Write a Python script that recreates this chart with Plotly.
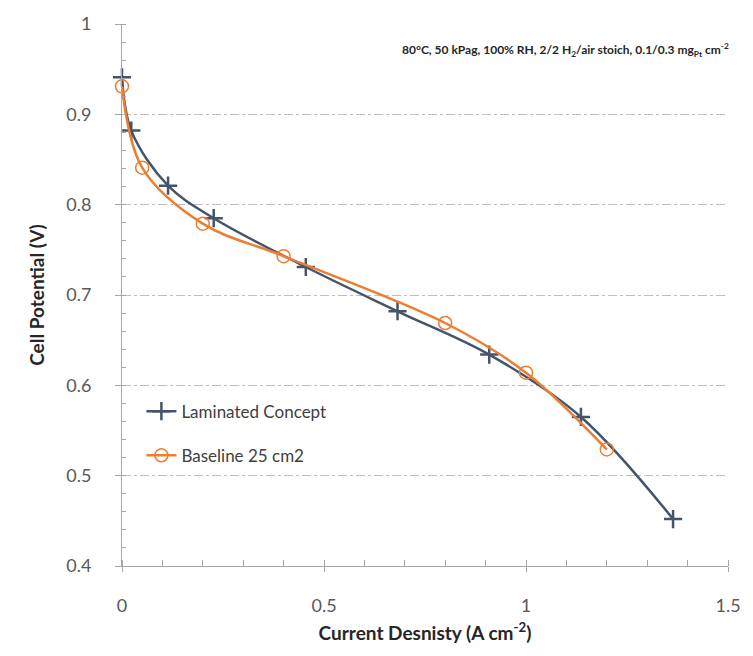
import plotly.graph_objects as go

# Data
lam_x = [0.0, 0.023, 0.114, 0.227, 0.455, 0.682, 0.909, 1.136, 1.364]
lam_y = [0.941, 0.882, 0.821, 0.785, 0.731, 0.682, 0.634, 0.565, 0.452]
base_x = [0.0, 0.05, 0.2, 0.4, 0.8, 1.0, 1.2]
base_y = [0.931, 0.841, 0.779, 0.743, 0.669, 0.614, 0.529]

x_ticks = [0, 0.5, 1, 1.5]
x_tick_text = ["0", "0.5", "1", "1.5"]
y_ticks = [0.4, 0.5, 0.6, 0.7, 0.8, 0.9, 1.0]
y_tick_text = ["0.4", "0.5", "0.6", "0.7", "0.8", "0.9", "1"]

NAVY = "#44546A"
ORANGE = "#ED7D31"
FONT = "Lato"
TXT = "#595959"

fig = go.Figure()
fig.add_trace(go.Scatter(
    x=lam_x, y=lam_y, name="Laminated Concept", mode="lines+markers",
    line=dict(color=NAVY, width=2.5, shape="spline", smoothing=1.0),
    marker=dict(symbol="cross-thin", size=13, line=dict(color=NAVY, width=2.5)),
    cliponaxis=False, legendgroup="a",
))
fig.add_trace(go.Scatter(
    x=base_x, y=base_y, name="Baseline 25 cm2", mode="lines+markers",
    line=dict(color=ORANGE, width=2.5, shape="spline", smoothing=1.0),
    marker=dict(symbol="circle-open", size=13, line=dict(color=ORANGE, width=1.5)),
    cliponaxis=False, legendgroup="b",
))

fig.update_layout(
    width=753, height=656,
    margin=dict(l=122, r=19, t=19, b=90),
    paper_bgcolor="white", plot_bgcolor="white",
    font=dict(family=FONT, color=TXT, size=17),
    showlegend=True,
    legend=dict(x=0.032, y=0.318, xanchor="left", yanchor="top",
                bgcolor="rgba(0,0,0,0)", font=dict(size=17, color="#404040"),
                traceorder="grouped", tracegroupgap=19, itemwidth=30),
    xaxis=dict(
        range=[0, 1.5], tickvals=x_ticks, ticktext=x_tick_text,
        showgrid=False, zeroline=False, showline=True, linecolor="#A6A6A6", linewidth=1,
        ticks="outside", ticklen=5, tickcolor="#A6A6A6",
        minor=dict(dtick=0.1, ticks="inside", ticklen=6, tickcolor="#A6A6A6", showgrid=False),
        tickfont=dict(size=18, color=TXT), ticklabelstandoff=18,
        title=dict(text="<b>Current Desnisty (A cm<sup>-2</sup>)</b>", font=dict(size=19, color="#262626"), standoff=12),
    ),
    yaxis=dict(
        range=[0.4, 1.0], tickvals=y_ticks, ticktext=y_tick_text,
        showgrid=True, gridcolor="#BFBFBF", gridwidth=1, griddash="dashdot",
        zeroline=False, showline=True, linecolor="#A6A6A6", linewidth=1,
        ticks="outside", ticklen=6, tickcolor="#A6A6A6",
        minor=dict(dtick=0.02, ticks="inside", ticklen=4, tickcolor="#A6A6A6", showgrid=False),
        tickfont=dict(size=18, color=TXT), ticklabelstandoff=20,
        title=dict(text="<b>Cell Potential (V)</b>", font=dict(size=19, color="#262626"), standoff=16),
    ),
    annotations=[dict(
        text="<b>80°C, 50 kPag, 100% RH, 2/2 H<sub>2</sub>/air stoich, 0.1/0.3 mg<sub>Pt</sub> cm<sup>-2</sup></b>",
        xref="paper", yref="paper", x=1.0, y=0.952, xanchor="right", yanchor="middle",
        xshift=3, showarrow=False, font=dict(size=12, color="#262626", family=FONT),
    )],
)

fig.write_html("out.html")
